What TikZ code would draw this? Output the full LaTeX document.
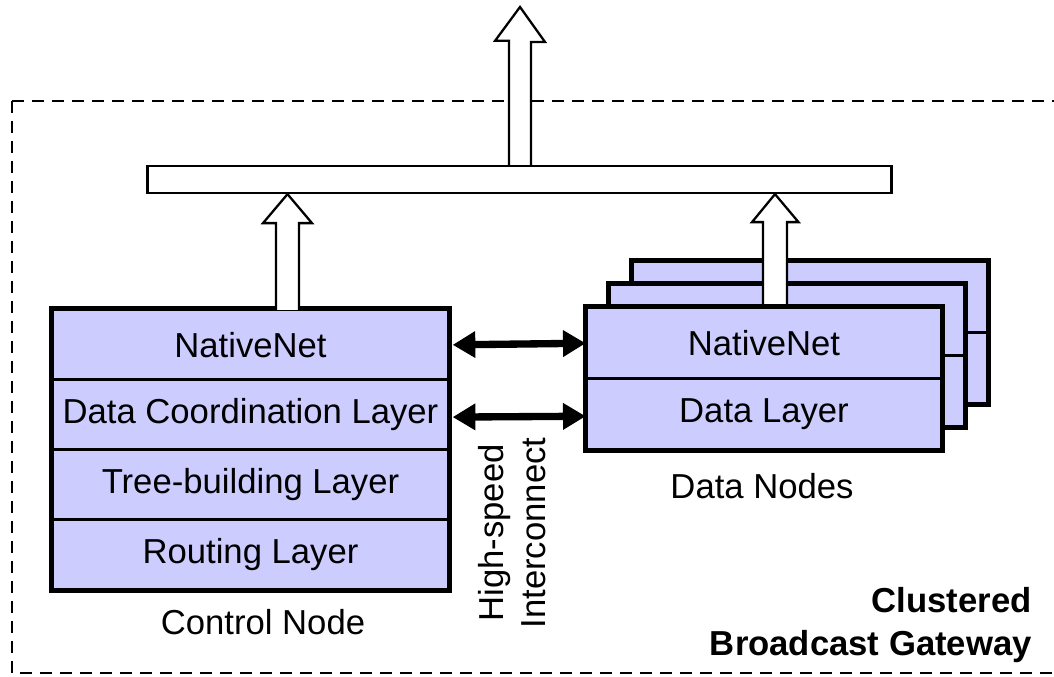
\documentclass[tikz,border=0pt]{standalone}
\usepackage{fontspec}
\setmainfont{Liberation Sans}
\usetikzlibrary{arrows.meta,calc}
\definecolor{lav}{RGB}{204,204,255}
\begin{document}
\begin{tikzpicture}[x=0.75pt,y=-0.75pt,
  txt/.style={font=\fontsize{26}{31}\selectfont, inner sep=0pt},
  layer/.style={rectangle, draw, line width=2pt, fill=lav, inner sep=0pt,
    font=\fontsize{26}{31}\selectfont},
  cl/.style={layer, minimum width=296.25pt, minimum height=52.31pt},
  dl/.style={layer, minimum width=265.5pt, minimum height=52.9pt},
  outer/.style={line width=4pt},
  blockarrow/.style={draw, line width=1.7pt, fill=white, line join=miter},
  dbl/.style={line width=5.5pt, {Triangle[length=17pt,width=19pt]}-{Triangle[length=17pt,width=19pt]}},
  gw/.style={draw, dashed, line width=1.6pt, dash pattern=on 9pt off 6pt}
]
\useasboundingbox (0,0) rectangle (1054,677);
% gateway boundary
\draw[gw] (12,101) -- (1070,101);
\draw[gw] (12,101) -- (12,673) -- (1070,673);

% output bar
\node[draw, line width=1.7pt, fill=white, minimum width=558pt, minimum height=20.25pt, inner sep=0pt] (bar) at (519.5,179.5) {};

% top output arrow
\coordinate (top) at (520,7);
\draw[blockarrow] ($(bar.north -| top)+(-11,0)$) -- ++(0,-124) -- ++(-14,0) -- (top) -- ++(25,35) -- ++(-14,0) -- ($(bar.north -| top)+(11,0)$);

% control node
\node[cl] (c1) at (250.5,344.9) {NativeNet};
\node[cl] (c2) at (250.5,414.6) {Data Coordination Layer};
\node[cl] (c3) at (250.5,484.4) {Tree-building Layer};
\node[cl] (c4) at (250.5,554.1) {Routing Layer};
\draw[outer] (c1.north west) rectangle (c4.south east);
\node[txt] (cnl) at (263,622) {Control Node};

% data nodes (back copies)
\node[dl] (b1) at (810,297.25) {};
\node[dl] (b2) at (810,367.75) {};
\draw[outer] (b1.north west) rectangle (b2.south east);
\node[dl] (m1) at (787,320.25) {};
\node[dl] (m2) at (787,390.75) {};
\draw[outer] (m1.north west) rectangle (m2.south east);

% right arrow (under front box)
\coordinate (ra) at (775,308);
\draw[blockarrow] ($(ra)+(-12,0)$) -- ($(bar.south -| ra)+(-12,28)$) -- ++(-11,0) -- (bar.south -| ra) -- ++(23.5,28) -- ++(-11.5,0) -- ($(ra)+(12,0)$);

% data node front
\node[dl] (d1) at (764,343.25) {NativeNet};
\node[dl] (d2) at (764,413.75) {Data Layer};
\draw[outer] (d1.north west) rectangle (d2.south east);
\node[txt] (dnl) at (762,486) {Data Nodes};

% left arrow
\coordinate (la) at (287.5,310);
\draw[blockarrow] ($(la)+(-11.5,0)$) -- ($(bar.south -| la)+(-11.5,29)$) -- ++(-13,0) -- (bar.south -| la) -- ++(24.5,29) -- ++(-13,0) -- ($(la)+(11.5,0)$);

% interconnect arrows
\draw[dbl, shorten <=2.5pt] (c1.east) -- (d1.west);
\draw[dbl, shorten <=2.5pt] ($(c2.east)+(0,2.5)$) -- ($(d2.west)+(0,2.5)$);
\node[txt, rotate=90, align=center] (hs) at (512,533) {High-speed\\Interconnect};

% gateway label
\node[txt, font=\fontsize{26}{32.5}\bfseries, align=right, anchor=east] (gwl) at (1032,625) {Clustered\\Broadcast Gateway};
\end{tikzpicture}
\end{document}
